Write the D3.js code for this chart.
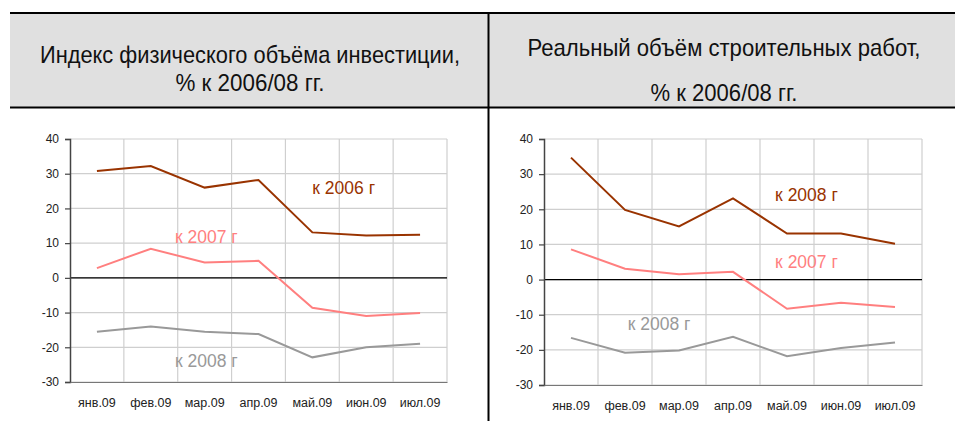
<!DOCTYPE html>
<html>
<head>
  <meta charset="utf-8">
  <title>Инвестиции и строительство, 2009</title>
  <script src="https://d3js.org/d3.v7.min.js"></script>
  <style>
    body { margin: 0; background: #fff; }
    svg { display: block; font-family: "Liberation Sans", Arial, sans-serif; }
    .title { font-family: "Liberation Sans Narrow", "Arial Narrow", "Liberation Sans", sans-serif; font-size: 24px; fill: #111; }
    .tick text { font-size: 12px; fill: #222; }
    .lbl { font-size: 17.5px; }
  </style>
</head>
<body>
  <div id="chart"></div>

  <script>
    // months on the x axis
    var months = ["янв.09", "фев.09", "мар.09", "апр.09", "май.09", "июн.09", "июл.09"];
    var yTicks = [-30, -20, -10, 0, 10, 20, 30, 40];

    // left chart: investment index
    var inv2006 = [30.8, 32.2, 26.0, 28.2, 13.1, 12.2, 12.4];
    var inv2007 = [2.8, 8.4, 4.4, 4.9, -8.6, -11.0, -10.1];
    var inv2008 = [-15.5, -14.0, -15.5, -16.2, -22.9, -20.0, -19.0];

    // right chart: construction works
    var con2008a = [34.7, 19.8, 15.1, 23.1, 13.1, 13.1, 10.2];
    var con2007 = [8.6, 3.1, 1.5, 2.2, -8.3, -6.6, -7.8];
    var con2008b = [-16.6, -20.8, -20.2, -16.3, -21.8, -19.5, -17.9];

    var titlesLeft = ["Индекс физического объёма инвестиции,", "% к 2006/08 гг."];
    var titlesRight = ["Реальный объём строительных работ,", "% к 2006/08 гг."];

    var colDark = "#993300", colPink = "#ff7f7f", colGray = "#999999";

    var svg = d3.select("#chart").append("svg")
      .attr("width", 955).attr("height", 421);

    // header band
    svg.append("rect").attr("x", 10).attr("y", 13).attr("width", 945).attr("height", 94)
      .attr("fill", "#e0e0e0");
    svg.append("line").attr("x1", 10).attr("x2", 955).attr("y1", 13).attr("y2", 13)
      .attr("stroke", "#000").attr("stroke-width", 2);
    svg.append("line").attr("x1", 10).attr("x2", 955).attr("y1", 107.5).attr("y2", 107.5)
      .attr("stroke", "#000").attr("stroke-width", 2);
    svg.append("line").attr("x1", 488.5).attr("x2", 488.5).attr("y1", 12).attr("y2", 421)
      .attr("stroke", "#000").attr("stroke-width", 2);

    function title(lines, cx, ys, widths) {
      lines.forEach(function(t, i) {
        svg.append("text").attr("class", "title")
          .attr("x", cx).attr("y", ys[i]).attr("text-anchor", "middle")
          .attr("textLength", widths[i]).attr("lengthAdjust", "spacingAndGlyphs")
          .text(t);
      });
    }
    title(titlesLeft, 250, [63, 91], [420, 149]);
    title(titlesRight, 724, [56, 101], [393, 147]);

    function chart(opt) {
      var x = d3.scaleBand().domain(months).range([opt.x0, opt.x1]);
      var y = d3.scaleLinear().domain([-30, 40]).range([opt.y1, opt.y0]);
      var g = svg.append("g");

      // grid
      g.selectAll(".hg").data(yTicks).enter().append("line")
        .attr("x1", opt.x0).attr("x2", opt.x1)
        .attr("y1", function(d) { return y(d); }).attr("y2", function(d) { return y(d); })
        .attr("stroke", "#cfcfcf").attr("stroke-width", 1.2);
      g.selectAll(".vg").data(months).enter().append("line")
        .attr("x1", function(d) { return x(d) + x.bandwidth(); })
        .attr("x2", function(d) { return x(d) + x.bandwidth(); })
        .attr("y1", opt.y0).attr("y2", opt.y1)
        .attr("stroke", "#cfcfcf").attr("stroke-width", 1.2);

      // zero line
      g.append("line").attr("x1", opt.x0).attr("x2", opt.x1)
        .attr("y1", y(0)).attr("y2", y(0)).attr("stroke", "#000").attr("stroke-width", 1.2);

      // y axis (plain hyphen for negatives, as in the source)
      var ya = g.append("g").attr("transform", "translate(" + opt.x0 + ",0)")
        .call(d3.axisLeft(y).tickValues(yTicks).tickSize(5).tickPadding(6)
          .tickFormat(function(d) { return String(d); }));
      ya.select(".domain").attr("stroke", "#444").attr("stroke-width", 1.5);
      ya.selectAll(".tick line").attr("stroke", "#444").attr("stroke-width", 1.2);

      // x axis
      var xa = g.append("g").attr("transform", "translate(0," + opt.y1 + ")")
        .call(d3.axisBottom(x).tickSize(0).tickPadding(16));
      xa.select(".domain").attr("stroke", "#777").attr("stroke-width", 1.2);
      xa.selectAll(".tick text").style("font-size", "12.5px");

      var line = d3.line()
        .x(function(d, i) { return x(months[i]) + x.bandwidth() / 2; })
        .y(function(d) { return y(d); });

      opt.series.forEach(function(s) {
        g.append("path").datum(s.values)
          .attr("fill", "none").attr("stroke", s.color).attr("stroke-width", 2)
          .attr("d", line);
        g.append("text").attr("class", "lbl")
          .attr("x", opt.x0 + x.step() * s.at)
          .attr("y", y(s.v))
          .attr("fill", s.color)
          .text(s.name);
      });
    }

    chart({
      x0: 70, x1: 447, y0: 139, y1: 382,
      series: [
        { values: inv2006, color: colDark, name: "к 2006 г", at: 4.5, v: 24.1 },
        { values: inv2007, color: colPink, name: "к 2007 г", at: 1.95, v: 10 },
        { values: inv2008, color: colGray, name: "к 2008 г", at: 1.95, v: -25.6 }
      ]
    });

    chart({
      x0: 544, x1: 922, y0: 139, y1: 385,
      series: [
        { values: con2008a, color: colDark, name: "к 2008 г", at: 4.28, v: 22.4 },
        { values: con2007, color: colPink, name: "к 2007 г", at: 4.28, v: 3.4 },
        { values: con2008b, color: colGray, name: "к 2008 г", at: 1.55, v: -14.4 }
      ]
    });
  </script>
</body>
</html>
